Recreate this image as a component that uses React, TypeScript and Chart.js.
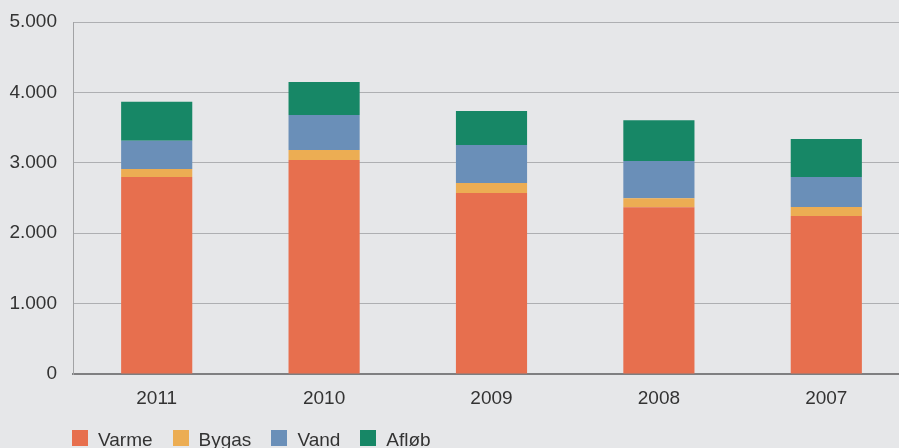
import React, { useEffect, useRef } from "react";
import { Chart, registerables } from "chart.js";

Chart.register(...registerables);

const years = ["2011", "2010", "2009", "2008", "2007"];
const varme = [2800, 3040, 2570, 2370, 2245];
const bygas = [112, 142, 142, 128, 128];
const vand = [400, 497, 540, 526, 426];
const afloeb = [554, 469, 483, 582, 540];
const seriesNames = ["Varme", "Bygas", "Vand", "Afløb"];
const seriesColors = ["#e76f4e", "#ecad53", "#6a8fb8", "#178766"];
const yMin = 0;
const yMax = 5000;
const yStep = 1000;

const FONT = "'Liberation Sans', Arial, Helvetica, sans-serif";
const TEXT = "#333333";
const BG = "#e6e7e9";

function fmt(v: number): string {
  return String(Math.round(v)).replace(/\B(?=(\d{3})+(?!\d))/g, ".");
}

export default function App() {
  const ref = useRef<HTMLCanvasElement | null>(null);

  useEffect(() => {
    if (!ref.current) return;
    const values = [varme, bygas, vand, afloeb];
    const chart = new Chart(ref.current, {
      type: "bar",
      data: {
        labels: years,
        datasets: seriesNames.map((name, i) => ({
          label: name,
          data: values[i],
          backgroundColor: seriesColors[i],
          borderWidth: 0,
          categoryPercentage: 1,
          barPercentage: 0.425,
        })),
      },
      options: {
        responsive: false,
        animation: false,
        devicePixelRatio: 1,
        layout: { padding: { top: 22, bottom: 34, left: 0, right: 0 } },
        plugins: {
          legend: { display: false },
          tooltip: { enabled: false },
        },
        scales: {
          x: {
            stacked: true,
            grid: { display: false, drawTicks: false },
            border: { display: true, color: "#7f7f81", width: 2 },
            ticks: {
              color: TEXT,
              font: { family: FONT, size: 19 },
              padding: 13,
            },
            afterFit: (s: any) => {
              s.height = 40;
              s.paddingLeft = 0;
              s.paddingRight = 0;
            },
          },
          y: {
            stacked: true,
            min: yMin,
            max: yMax,
            grid: { color: "#aeafb2", lineWidth: 1, drawTicks: false },
            border: { display: true, color: "#a2a3a5", width: 1 },
            ticks: {
              stepSize: yStep,
              color: TEXT,
              font: { family: FONT, size: 19 },
              padding: 16,
              callback: (v: any) => fmt(Number(v)),
            },
            afterFit: (s: any) => {
              s.width = 73;
              s.paddingTop = 0;
              s.paddingBottom = 0;
            },
          },
        },
      },
    });
    return () => chart.destroy();
  }, []);

  return (
    <div
      style={{
        position: "fixed",
        left: 0,
        top: 0,
        width: 899,
        height: 448,
        overflow: "hidden",
        background: BG,
      }}
    >
      <canvas ref={ref} width={910} height={448} style={{ display: "block" }} />
      <div
        style={{
          position: "absolute",
          left: 72,
          top: 430,
          display: "flex",
          alignItems: "center",
          gap: 20,
          fontFamily: FONT,
          fontSize: 19,
          color: TEXT,
          lineHeight: "16px",
        }}
      >
        {seriesNames.map((n, i) => (
          <div key={n} style={{ display: "flex", alignItems: "center", gap: 10 }}>
            <span
              style={{
                display: "inline-block",
                width: 16,
                height: 16,
                background: seriesColors[i],
              }}
            />
            <span style={{ position: "relative", top: 2 }}>{n}</span>
          </div>
        ))}
      </div>
    </div>
  );
}
